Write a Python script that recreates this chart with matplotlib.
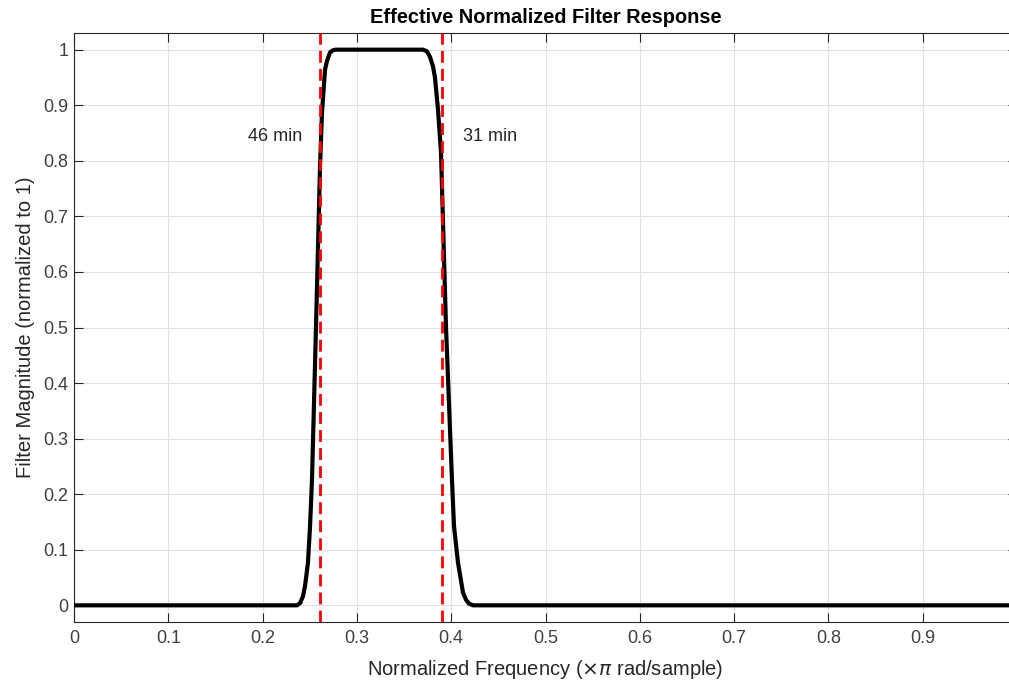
import matplotlib.pyplot as plt

plt.rcParams['font.family'] = ['Liberation Sans', 'DejaVu Sans']

# effective filter response
freq = [0.0, 0.2365, 0.2397, 0.2428, 0.2450, 0.2481, 0.2503, 0.2524, 0.2566,
        0.2609, 0.2630, 0.2662, 0.2683, 0.2715, 0.2746, 0.2778, 0.3701, 0.3743,
        0.3775, 0.3807, 0.3828, 0.3860, 0.3892, 0.3945, 0.4008, 0.4030, 0.4072,
        0.4125, 0.4157, 0.4189, 0.4231, 1.0]
magnitude = [0.0, 0.0, 0.004, 0.016, 0.035, 0.077, 0.142, 0.227, 0.5,
             0.79, 0.887, 0.964, 0.98, 0.995, 0.999, 1.0, 1.0, 0.997,
             0.987, 0.97, 0.95, 0.892, 0.815, 0.5, 0.227, 0.142, 0.077,
             0.023, 0.01, 0.003, 0.0, 0.0]

# cutoff markers and their labels
cutoffs = [0.261, 0.390]
cutoff_labels = ['46 min', '31 min']
label_x = [0.213, 0.441]
label_y = 0.843

fig = plt.figure(figsize=(10.09, 6.85), dpi=100)
# axes run slightly past the right edge of the canvas, as in the reference
ax = fig.add_axes([74 / 1009, 63 / 685, 943 / 1009, (622 - 33) / 685])

ax.plot(freq, magnitude, color='black', linewidth=3, zorder=3,
        solid_joinstyle='round')
for c in cutoffs:
    ax.axvline(c, color='#ff0000', linewidth=2, dashes=(4.3, 2.2), zorder=4)
for txt, lx in zip(cutoff_labels, label_x):
    ax.text(lx, label_y, txt, ha='center', va='center', fontsize=13, color='#262626')

ax.set_xlim(0, 1)
ax.set_ylim(-0.03, 1.03)
ax.set_xticks([0, 0.1, 0.2, 0.3, 0.4, 0.5, 0.6, 0.7, 0.8, 0.9])
ax.set_xticklabels(['0', '0.1', '0.2', '0.3', '0.4', '0.5', '0.6', '0.7', '0.8', '0.9'])
ax.set_yticks([0, 0.1, 0.2, 0.3, 0.4, 0.5, 0.6, 0.7, 0.8, 0.9, 1])
ax.set_yticklabels(['0', '0.1', '0.2', '0.3', '0.4', '0.5', '0.6', '0.7', '0.8', '0.9', '1'])
ax.grid(True, color='#e0e0e0', linewidth=0.8)
ax.tick_params(direction='in', top=True, right=True, length=6.5, width=0.8,
               labelsize=13, colors='#262626', labelcolor='#404040')
ax.tick_params(axis='x', pad=6)
ax.tick_params(axis='y', pad=4)
for s in ax.spines.values():
    s.set_color('#262626')
    s.set_linewidth(0.8)

ax.set_title('Effective Normalized Filter Response', fontsize=14.4, fontweight='bold', pad=7)
ax.set_xlabel('Normalized Frequency ($\\times\\pi$ rad/sample)', fontsize=14.5, color='#262626', labelpad=8)
ax.set_ylabel('Filter Magnitude (normalized to 1)', fontsize=14.5, color='#262626', labelpad=6)

plt.savefig('out.png', dpi=100)
plt.close()
